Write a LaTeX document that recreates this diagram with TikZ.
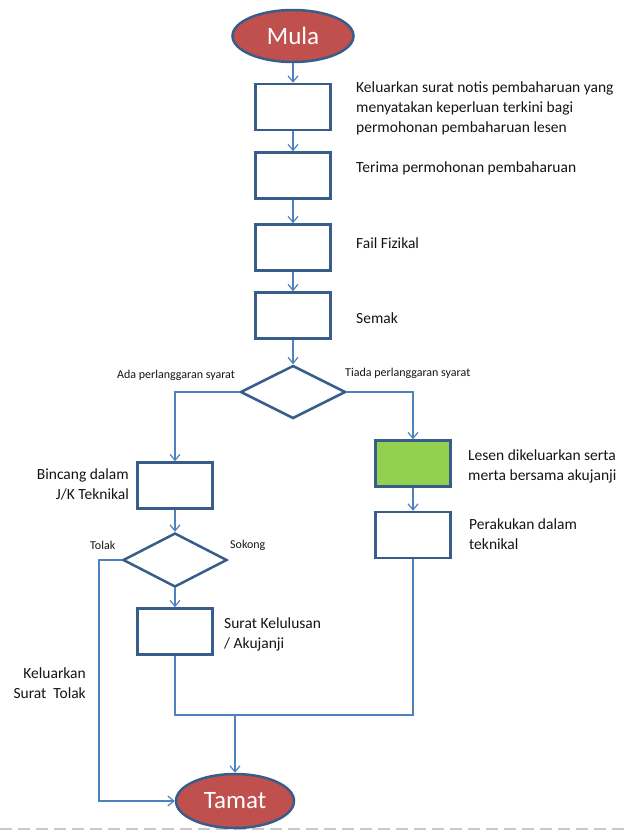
\documentclass[tikz,border=0pt]{standalone}
\usepackage{fontspec}
\setmainfont{Carlito}
\usetikzlibrary{shapes.geometric,arrows.meta}
\definecolor{boxblue}{RGB}{56,93,138}
\definecolor{lineblue}{RGB}{79,129,189}
\definecolor{termred}{RGB}{192,80,77}
\definecolor{okgreen}{RGB}{146,208,80}
\definecolor{txt}{RGB}{20,20,20}
\tikzset{
  procbox/.style={draw=boxblue, line width=2.5pt, fill=white, minimum width=75pt, minimum height=46pt, inner sep=0pt},
  greenbox/.style={procbox, fill=okgreen},
  decbox/.style={diamond, draw=boxblue, line width=2.5pt, fill=white, minimum width=105pt, minimum height=53pt, inner sep=0pt},
  term/.style={ellipse, draw=boxblue, line width=2.5pt, fill=termred, minimum width=121pt, minimum height=52pt, inner sep=0pt, text=white, font=\fontsize{25}{28}\selectfont},
  lbl/.style={inner sep=0pt, text=txt, font=\fontsize{15.5}{20}\selectfont, align=left},
  rlbl/.style={inner sep=0pt, text=txt, font=\fontsize{15.5}{20}\selectfont, align=right},
  small/.style={inner sep=0pt, text=txt, font=\fontsize{12}{14}\selectfont},
  conn/.style={draw=lineblue, line width=1.2pt},
  arr/.style={conn, -{Straight Barb[length=6pt,width=10pt,line width=1.2pt]}},
}
\begin{document}
\begin{tikzpicture}[x=1pt,y=-1pt]
\useasboundingbox (0,0) rectangle (629,830);
\draw[draw={rgb,255:red,200;green,200;blue,200}, line width=1.5pt, dash pattern=on 12pt off 6pt] (0,829) -- (629,829);

\node[term] (mula) at (293,36) {Mula};
\node[procbox] (b1) at (293,107) {};
\node[procbox] (b2) at (293,175.5) {};
\node[procbox] (b3) at (293,247.5) {};
\node[procbox] (b4) at (293,315.5) {};
\node[decbox] (d1) at (293,392) {};
\node[procbox] (bincang) at (175,485.5) {};
\node[decbox, minimum width=104pt, minimum height=54pt] (d2) at (175,560) {};
\node[procbox] (surat) at (175,631.5) {};
\node[greenbox] (green) at (413,463.5) {};
\node[procbox] (perakuan) at (413,535) {};
\node[term, minimum width=118pt, minimum height=54pt] (tamat) at (235,801) {Tamat};

\node[lbl, anchor=west] (t1) at (356,108) {Keluarkan surat notis pembaharuan yang\\menyatakan keperluan terkini bagi\\permohonan pembaharuan lesen};
\node[lbl, anchor=west] (t2) at (356,168) {Terima permohonan pembaharuan};
\node[lbl, anchor=west] (t3) at (356,243) {Fail Fizikal};
\node[lbl, anchor=west] (t4) at (356,318) {Semak};
\node[lbl, anchor=west] (t5) at (468,466) {Lesen dikeluarkan serta\\merta bersama akujanji};
\node[lbl, anchor=west] (t6) at (469,534) {Perakukan dalam\\teknikal};
\node[lbl, anchor=west] (t7) at (224,634) {Surat Kelulusan\\/ Akujanji};
\node[rlbl, anchor=east] (t8) at (129,484) {Bincang dalam\\J/K Teknikal};
\node[rlbl, anchor=east] (t9) at (86,683) {Keluarkan\\Surat\ \ Tolak};
\node[small, anchor=west] (s1) at (117,375) {Ada perlanggaran syarat};
\node[small, anchor=west] (s2) at (345,373) {Tiada perlanggaran syarat};
\node[small, anchor=west] (s3) at (90,545) {Tolak};
\node[small, anchor=west] (s4) at (230,545) {Sokong};

\coordinate (tolakdown) at (99,560);
\coordinate (mergeL) at (175,715);
\coordinate (mergeJ) at (235,715);
\coordinate (mergeR) at (413,715);

\draw[arr] (mula) -- (b1);
\draw[arr] (b1) -- (b2);
\draw[arr] (b2) -- (b3);
\draw[arr] (b3) -- (b4);
\draw[arr] (b4) -- (d1);
\draw[arr] (d1.west) -| (bincang.north);
\draw[arr] (d1.east) -| (green.north);
\draw[arr] (bincang) -- (d2);
\draw[arr] (d2.south) -- (surat.north);
\draw[arr] (d2.west) -- (tolakdown) |- (tamat.west);
\draw[arr] (green) -- (perakuan);
\draw[conn] (surat.south) -- (mergeL) -- (mergeR) -- (perakuan.south);
\draw[arr] (mergeJ) -- (tamat.north);
\end{tikzpicture}
\end{document}
